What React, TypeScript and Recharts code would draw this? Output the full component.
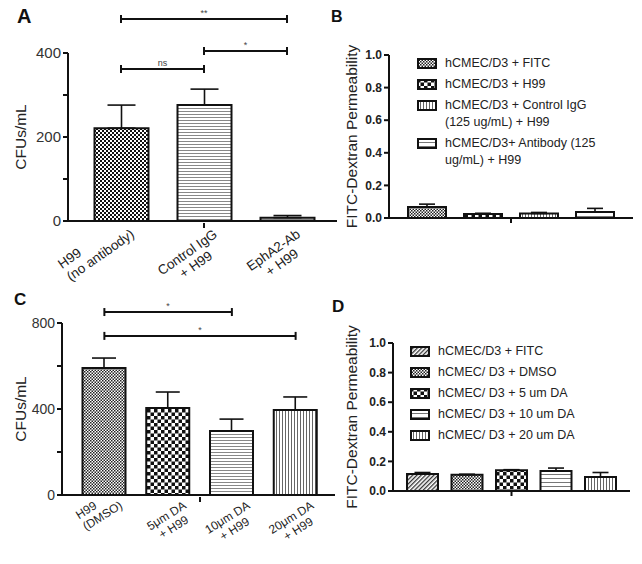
import React from 'react'
import { BarChart, Bar, XAxis, YAxis, ErrorBar, Cell, ReferenceLine, Legend } from 'recharts'

const FONT = '"Liberation Sans", Arial, Helvetica, sans-serif'
const INK = '#111'

// ---- panel A: CFUs with antibodies
const catsA = ['H99\n(no antibody)', 'Control IgG\n+ H99', 'EphA2-Ab\n+ H99']
const valsA = [221, 276, 8]
const errA = [55, 38, 5]
const fillsA = ['checkMed', 'hLines', 'hLines']
const ticksA = [0, 100, 200, 300, 400]
// [from, to, y, label]
const bracketsA: [number, number, number, string][] = [
  [0, 2, 481, '**'],
  [1, 2, 405, '*'],
  [0, 1, 362, 'ns'],
]

// ---- panel B: permeability, antibodies
const seriesB = [
  'hCMEC/D3 + FITC',
  'hCMEC/D3 + H99',
  'hCMEC/D3 + Control IgG\n(125 ug/mL) + H99',
  'hCMEC/D3+ Antibody (125\nug/mL) + H99',
]
const valsB = [0.067, 0.025, 0.028, 0.037]
const errB = [0.018, 0.004, 0.006, 0.022]
const fillsB = ['fineGrey', 'checkLarge', 'vLines', 'hLinesWide']
const ticksPerm = [0, 0.2, 0.4, 0.6, 0.8, 1.0]

// ---- panel C: CFUs with DA
const catsC = ['H99\n(DMSO)', '5μm DA\n+ H99', '10μm DA\n+ H99', '20μm DA\n+ H99']
const valsC = [591, 405, 298, 395]
const errC = [46, 74, 55, 61]
const fillsC = ['fineGrey', 'checkLarge', 'hLines', 'vLines']
const ticksC = [0, 200, 400, 600, 800]
const bracketsC: [number, number, number, string][] = [
  [0, 2, 851, '*'],
  [0, 3, 740, '*'],
]

// ---- panel D: permeability, DA
const seriesD = [
  'hCMEC/D3 + FITC',
  'hCMEC/ D3 + DMSO',
  'hCMEC/ D3 + 5 um DA',
  'hCMEC/ D3 + 10 um DA',
  'hCMEC/ D3 + 20 um DA',
]
const valsD = [0.115, 0.11, 0.14, 0.135, 0.095]
const errD = [0.01, 0.003, 0.004, 0.02, 0.03]
const fillsD = ['diag', 'fineGrey', 'checkLarge', 'hLinesWide', 'vLines']

let ctx: CanvasRenderingContext2D | null = null
function textWidth(s: string, size: number) {
  if (!ctx) ctx = document.createElement('canvas').getContext('2d')
  if (!ctx) return s.length * size * 0.55
  ctx.font = `${size}px "Liberation Sans", Arial`
  return ctx.measureText(s).width
}

// slanted multi-line category label. The widest line ends at (ur, v0) in the
// rotated frame; lines under a wide first line are centred, a short first line
// above a wider one is left-aligned (that is how the source figure sets them).
// GraphPad also puts one tick in the middle of the x axis, drawn here too.
function SlantTick(props: any) {
  const { x, y, payload, fs, index, count, angle, ur, v0, lh } = props
  const lines = String(payload.value).split('\n')
  const widths = lines.map((l) => textWidth(l, fs))
  const W = Math.max(...widths)
  const k = widths.indexOf(W)
  const midIdx = Math.floor((count - 1) / 2)
  const half = payload.offset ?? 0
  const midX = count % 2 === 1 ? x : x + half
  return (
    <g>
      {index === midIdx && <line x1={midX} x2={midX} y1={y} y2={y + 5} stroke={INK} strokeWidth={2} />}
      <g transform={`translate(${x},${y}) rotate(${-angle})`}>
        {lines.map((l, i) => (
          <text
            key={i}
            x={k === 0 ? ur - W / 2 : ur - W}
            y={v0 + (i - k) * lh}
            textAnchor={k === 0 ? 'middle' : 'start'}
            fontSize={fs}
            fontFamily={FONT}
            fill="#222"
          >
            {l}
          </text>
        ))}
      </g>
    </g>
  )
}

function yLabel(text: string, cx: number, fs: number) {
  return ({ viewBox }: any) => {
    const x = viewBox.x + cx
    const y = viewBox.y + viewBox.height / 2
    return (
      <text
        x={x}
        y={y}
        transform={`rotate(-90, ${x}, ${y})`}
        textAnchor="middle"
        dominantBaseline="central"
        fontSize={fs}
        fontFamily={FONT}
        fill="#222"
      >
        {text}
      </text>
    )
  }
}

function bracketLines(cats: string[], list: [number, number, number, string][], d: number) {
  const out: React.ReactElement[] = []
  list.forEach(([a, b, y, lab], i) => {
    out.push(
      <ReferenceLine
        key={`h${i}`}
        segment={[{ x: cats[a], y }, { x: cats[b], y }]}
        stroke={INK}
        strokeWidth={2}
        ifOverflow="visible"
        label={{ value: lab, position: 'top', offset: 3, fontSize: 9, fill: '#444', fontFamily: FONT }}
      />,
    )
    ;[a, b].forEach((c, j) =>
      out.push(
        <ReferenceLine
          key={`v${i}-${j}`}
          segment={[{ x: cats[c], y: y - d }, { x: cats[c], y: y + d }]}
          stroke={INK}
          strokeWidth={2}
          ifOverflow="visible"
        />,
      ),
    )
  })
  return out
}

const axisLine = { stroke: INK, strokeWidth: 2 }

function CfuChart({ cats, vals, errs, fills, ticks, brackets, d, width, height, margin, yw, pad, barSize, capW, tickFs, lab }: any) {
  const data = cats.map((name: string, i: number) => ({ name, v: vals[i], e: [0, errs[i]] }))
  const top = ticks[ticks.length - 1]
  return (
    <BarChart width={width} height={height} data={data} margin={margin}>
      <XAxis
        dataKey="name"
        interval={0}
        tickLine={false}
        tickSize={0}
        axisLine={axisLine}
        height={69}
        padding={pad}
        tick={<SlantTick count={cats.length} {...lab} />}
      />
      <YAxis
        domain={[0, top]}
        ticks={ticks}
        tickFormatter={(v: number) => (v % (top / 2) === 0 ? String(v) : '')}
        width={yw}
        tickSize={5}
        tickMargin={2}
        axisLine={axisLine}
        tickLine={axisLine}
        tick={{ fontSize: tickFs, fill: '#333', fontFamily: FONT }}
        label={{ content: yLabel('CFUs/mL', 20 - margin.left, 15.5) }}
      />
      <Bar dataKey="v" barSize={barSize} stroke={INK} strokeWidth={2} isAnimationActive={false}>
        {fills.map((f: string, i: number) => (
          <Cell key={i} fill={`url(#${f})`} />
        ))}
        <ErrorBar dataKey="e" width={capW} stroke={INK} strokeWidth={1.6} direction="y" />
      </Bar>
      {bracketLines(cats, brackets, d)}
    </BarChart>
  )
}

function PermLegend({ series, fills, gap }: any) {
  return (
    <div style={{ fontFamily: FONT, fontSize: 12.5, color: '#222' }}>
      {series.map((s: string, i: number) => (
        <div key={i} style={{ display: 'flex', alignItems: 'flex-start', marginBottom: gap }}>
          <svg width={20} height={13} style={{ marginTop: 3, flex: 'none' }}>
            <rect x={1} y={1} width={18} height={9} fill={`url(#${fills[i]})`} stroke={INK} strokeWidth={2} />
          </svg>
          <div style={{ marginLeft: 8, lineHeight: '17px', whiteSpace: 'pre' }}>{s}</div>
        </div>
      ))}
    </div>
  )
}

function PermChart({ series, vals, errs, fills, width, height, margin, yw, xh, barSize, barGap, legendPos, gap }: any) {
  const row: any = { name: '' }
  series.forEach((_: string, i: number) => {
    row[`s${i}`] = vals[i]
    row[`e${i}`] = [0, errs[i]]
  })
  return (
    <BarChart width={width} height={height} data={[row]} margin={margin} barGap={barGap}>
      <XAxis
        dataKey="name"
        axisLine={axisLine}
        tickLine={axisLine}
        tickSize={5}
        tickFormatter={() => ''}
        height={xh}
      />
      <YAxis
        domain={[0, 1]}
        ticks={ticksPerm}
        tickFormatter={(v: number) => v.toFixed(1)}
        width={yw}
        tickSize={5}
        tickMargin={2}
        axisLine={axisLine}
        tickLine={axisLine}
        tick={{ fontSize: 12, fontWeight: 'bold', fill: '#222', fontFamily: FONT }}
        label={{ content: yLabel('FITC-Dextran Permeability', 51, 15.5) }}
      />
      <Legend
        layout="vertical"
        align="center"
        verticalAlign="middle"
        wrapperStyle={{ position: 'absolute', left: legendPos[0], top: legendPos[1], width: 230 }}
        content={() => <PermLegend series={series} fills={fills} gap={gap} />}
      />
      {series.map((s: string, i: number) => (
        <Bar
          key={i}
          dataKey={`s${i}`}
          name={s}
          barSize={barSize}
          fill={`url(#${fills[i]})`}
          stroke={INK}
          strokeWidth={2}
          isAnimationActive={false}
        >
          <ErrorBar dataKey={`e${i}`} width={8} stroke={INK} strokeWidth={1.6} direction="y" />
        </Bar>
      ))}
    </BarChart>
  )
}

function Patterns() {
  return (
    <defs>
      <pattern id="checkMed" width="4" height="4" patternUnits="userSpaceOnUse">
        <rect width="4" height="4" fill="#fff" />
        <rect width="2" height="2" fill="#111" />
        <rect x="2" y="2" width="2" height="2" fill="#111" />
      </pattern>
      <pattern id="fineGrey" width="3" height="3" patternUnits="userSpaceOnUse">
        <rect width="3" height="3" fill="#fff" />
        <rect width="1.5" height="1.5" fill="#222" />
        <rect x="1.5" y="1.5" width="1.5" height="1.5" fill="#222" />
      </pattern>
      <pattern id="checkLarge" width="7" height="7" patternUnits="userSpaceOnUse">
        <rect width="7" height="7" fill="#fff" />
        <rect width="3.5" height="3.5" fill="#111" />
        <rect x="3.5" y="3.5" width="3.5" height="3.5" fill="#111" />
      </pattern>
      <pattern id="hLines" width="4" height="3" patternUnits="userSpaceOnUse">
        <rect width="4" height="3" fill="#fff" />
        <rect width="4" height="1" fill="#888" />
      </pattern>
      <pattern id="hLinesWide" width="4" height="4" patternUnits="userSpaceOnUse">
        <rect width="4" height="4" fill="#fff" />
        <rect width="4" height="1" fill="#777" />
      </pattern>
      <pattern id="vLines" width="3" height="4" patternUnits="userSpaceOnUse">
        <rect width="3" height="4" fill="#fff" />
        <rect width="1" height="4" fill="#666" />
      </pattern>
      <pattern id="diag" width="3" height="3" patternUnits="userSpaceOnUse" patternTransform="rotate(45)">
        <rect width="3" height="3" fill="#fff" />
        <rect width="1.3" height="3" fill="#333" />
      </pattern>
    </defs>
  )
}

export default function App() {
  return (
    <div style={{ position: 'absolute', left: 0, top: 0, width: 642, height: 564, background: '#fff', overflow: 'hidden' }}>
      <svg width={642} height={564} style={{ position: 'absolute', left: 0, top: 0 }}>
        <Patterns />
        <g fontFamily={FONT} fontWeight="bold" fill="#111">
          <text x={17} y={23} fontSize={20}>A</text>
          <text x={331} y={22} fontSize={16}>B</text>
          <text x={14} y={305} fontSize={17}>C</text>
          <text x={332} y={312} fontSize={17}>D</text>
        </g>
      </svg>
      <div style={{ position: 'absolute', left: 0, top: 0 }}>
        <CfuChart
          cats={catsA}
          vals={valsA}
          errs={errA}
          fills={fillsA}
          ticks={ticksA}
          brackets={bracketsA}
          d={9.5}
          width={340}
          height={300}
          margin={{ top: 53, right: 3, left: 0, bottom: 10 }}
          yw={68}
          pad={{ left: 11.5, right: 8.5 }}
          barSize={54}
          capW={14}
          tickFs={15}
          lab={{ fs: 13.5, angle: 35, ur: 4, v0: 19, lh: 15 }}
        />
      </div>
      <div style={{ position: 'absolute', left: 300, top: 0 }}>
        <PermChart
          series={seriesB}
          vals={valsB}
          errs={errB}
          fills={fillsB}
          width={342}
          height={290}
          margin={{ top: 55, right: 9, left: 0, bottom: 0 }}
          yw={89}
          xh={72}
          barSize={38}
          barGap={18}
          legendPos={[117, 55]}
          gap={4}
        />
      </div>
      <div style={{ position: 'absolute', left: 0, top: 290 }}>
        <CfuChart
          cats={catsC}
          vals={valsC}
          errs={errC}
          fills={fillsC}
          ticks={ticksC}
          brackets={bracketsC}
          d={18.6}
          width={340}
          height={274}
          margin={{ top: 33, right: 5, left: 0, bottom: 0 }}
          yw={62}
          pad={{ left: 10.5, right: 7.5 }}
          barSize={43}
          capW={12}
          tickFs={14}
          lab={{ fs: 12, angle: 32, ur: 10.5, v0: 19, lh: 13.5 }}
        />
      </div>
      <div style={{ position: 'absolute', left: 300, top: 290 }}>
        <PermChart
          series={seriesD}
          vals={valsD}
          errs={errD}
          fills={fillsD}
          width={342}
          height={274}
          margin={{ top: 53, right: 12, left: 0, bottom: 0 }}
          yw={93}
          xh={73}
          barSize={31}
          barGap={13.5}
          legendPos={[110, 53]}
          gap={4}
        />
      </div>
    </div>
  )
}
